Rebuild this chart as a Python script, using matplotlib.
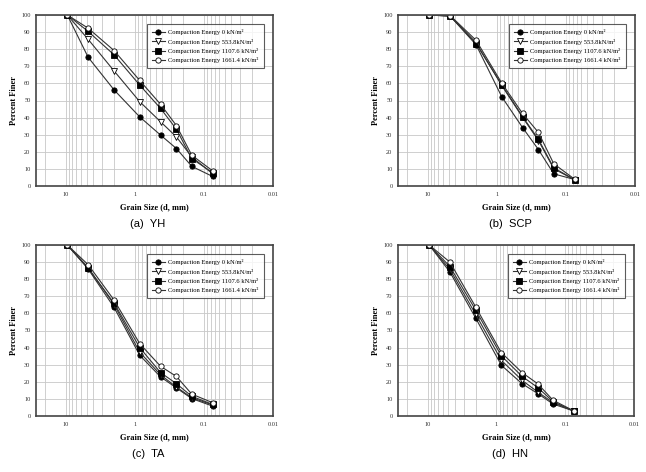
import matplotlib
matplotlib.use("Agg")
import matplotlib.pyplot as plt
from matplotlib.ticker import LogLocator, FixedLocator, NullFormatter

plt.rcParams['font.family'] = ['Liberation Serif', 'DejaVu Serif']

# sieve sizes (mm)
sieve = [9.5, 4.75, 2.0, 0.85, 0.425, 0.25, 0.15, 0.075]

labels = ['Compaction Energy 0 kN/m²',
          'Compaction Energy 553.8kN/m²',
          'Compaction Energy 1107.6 kN/m²',
          'Compaction Energy 1661.4 kN/m²']

# percent finer for each soil, order: 0, 553.8, 1107.6, 1661.4 kN/m2
yh_0 = [100, 75.3, 56.2, 40.4, 29.8, 21.9, 11.5, 5.6]
yh_553 = [100, 85.8, 67.3, 49.3, 37.6, 28.7, 17.0, 7.2]
yh_1107 = [100, 90.4, 76.7, 59.0, 45.4, 33.2, 16.0, 7.8]
yh_1661 = [100, 92.3, 79.2, 61.7, 47.8, 35.3, 18.0, 8.9]

scp_0 = [100, 99.4, 82.6, 52.2, 34.2, 21.3, 7.1, 3.8]
scp_553 = [100, 99.3, 83.8, 58.8, 40.2, 26.6, 10.1, 3.6]
scp_1107 = [100, 99.5, 83.2, 59.2, 40.6, 27.3, 10.6, 3.7]
scp_1661 = [100, 99.7, 85.2, 60.2, 42.4, 31.3, 13.0, 4.0]

ta_0 = [100, 86.0, 63.5, 35.5, 22.9, 16.4, 10.2, 5.8]
ta_553 = [100, 86.8, 65.2, 37.3, 24.1, 16.9, 10.7, 6.5]
ta_1107 = [100, 86.3, 66.0, 40.0, 25.4, 18.9, 11.5, 6.8]
ta_1661 = [100, 88.5, 67.8, 42.3, 29.1, 23.1, 12.8, 7.8]

hn_0 = [100, 84.2, 57.2, 29.7, 18.9, 13.1, 7.0, 2.9]
hn_553 = [100, 85.7, 59.4, 32.6, 20.9, 14.0, 7.8, 2.9]
hn_1107 = [100, 87.4, 61.9, 35.2, 23.2, 16.6, 8.4, 2.9]
hn_1661 = [100, 90.0, 63.7, 37.1, 25.4, 18.8, 9.2, 3.0]

panels = [
    ('(a)  YH', [yh_0, yh_553, yh_1107, yh_1661]),
    ('(b)  SCP', [scp_0, scp_553, scp_1107, scp_1661]),
    ('(c)  TA', [ta_0, ta_553, ta_1107, ta_1661]),
    ('(d)  HN', [hn_0, hn_553, hn_1107, hn_1661]),
]

styles = [dict(marker='o', mfc='black'),
          dict(marker='v', mfc='white'),
          dict(marker='s', mfc='black'),
          dict(marker='o', mfc='white')]

W, H = 646, 472
boxes = [(36, 15, 273, 186), (398, 15, 635, 186),
         (36, 245, 273, 416), (398, 245, 634, 416)]

fig = plt.figure(figsize=(W / 100, H / 100), dpi=100)

for (cap, series), (x0, y0, x1, y1) in zip(panels, boxes):
    ax = fig.add_axes([x0 / W, 1 - y1 / H, (x1 - x0) / W, (y1 - y0) / H])
    for vals, lab, st in zip(series, labels, styles):
        ax.plot(sieve, vals, color='#333333', lw=0.8, mec='black',
                mew=0.6, ms=3.8, label=lab, **st)
    ax.set_xscale('log')
    ax.set_xlim(27, 0.01)
    ax.set_ylim(0, 100)
    ax.xaxis.set_major_locator(FixedLocator([10, 1, 0.1, 0.01]))
    ax.set_xticklabels(['10', '1', '0.1', '0.01'])
    ax.xaxis.set_minor_locator(LogLocator(base=10, subs=range(2, 10), numticks=20))
    ax.xaxis.set_minor_formatter(NullFormatter())
    ax.set_yticks(range(0, 101, 10))
    ax.grid(True, which='both', color='#c8c8c8', lw=0.6)
    ax.set_axisbelow(True)
    ax.tick_params(which='both', length=0, labelsize=4.6, pad=4, colors='#333333')
    for sp in ax.spines.values():
        sp.set_color('#444444')
        sp.set_linewidth(1.2)
    ax.set_xlabel('Grain Size (d, mm)', fontsize=6, fontweight='bold', labelpad=5)
    ax.set_ylabel('Percent Finer', fontsize=6, fontweight='bold', labelpad=2)
    leg = ax.legend(loc='upper right', bbox_to_anchor=(0.975, 0.965),
                    fontsize=4.7, frameon=True, fancybox=False,
                    handlelength=2.0, handletextpad=0.5, borderpad=0.8,
                    labelspacing=0.5)
    leg.get_frame().set_edgecolor('#333333')
    leg.get_frame().set_linewidth(0.8)
    fig.text((x0 + x1) / 2 / W - 0.01, 1 - (y1 + 38) / H, cap,
             family=['Liberation Sans', 'DejaVu Sans'], fontsize=8,
             ha='center', va='center')

fig.savefig('out.png', dpi=100)
